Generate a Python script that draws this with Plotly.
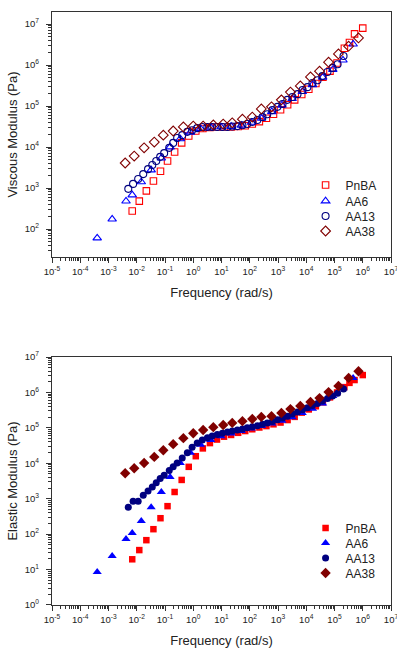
import numpy as np
import plotly.graph_objects as go

# ---- data (log10 of frequency [rad/s] and log10 of modulus [Pa]) ----
pnba_logf = [-2.16, -1.91, -1.66, -1.41, -1.16, -0.91, -0.66, -0.41, -0.16, 0.09,
             0.34, 0.59, 0.84, 1.09, 1.34, 1.59, 1.84, 2.09, 2.34, 2.59,
             2.84, 3.09, 3.34, 3.59, 3.84, 4.09, 4.34, 4.59, 4.84, 5.09,
             5.35, 5.53, 5.71, 6.00]
pnba_visc = [2.44, 2.68, 2.93, 3.17, 3.41, 3.66, 3.88, 4.10, 4.27, 4.39,
             4.45, 4.48, 4.49, 4.49, 4.49, 4.50, 4.52, 4.56, 4.62, 4.70,
             4.80, 4.91, 5.03, 5.15, 5.28, 5.41, 5.55, 5.70, 5.85, 6.05,
             6.41, 6.55, 6.76, 6.90]
pnba_elas = [1.29, 1.55, 1.83, 2.14, 2.45, 2.79, 3.19, 3.53, 3.90, 4.20,
             4.42, 4.57, 4.67, 4.75, 4.80, 4.86, 4.91, 4.96, 5.01, 5.05,
             5.10, 5.15, 5.22, 5.31, 5.43, 5.52, 5.61, 5.72, 5.86, 6.00,
             6.15, 6.27, 6.35, 6.49]

aa6_logf = [-3.40, -2.87, -2.38, -2.16, -1.84, -1.49, -1.13, -0.82, -0.46, -0.10,
            0.26, 0.62, 0.98, 1.34, 1.70, 2.06, 2.42, 2.78, 3.14, 3.50,
            3.86, 4.22, 4.58, 4.94, 5.30, 5.66]
aa6_visc = [1.78, 2.24, 2.68, 2.83, 3.15, 3.44, 3.73, 4.00, 4.20, 4.36,
            4.45, 4.48, 4.49, 4.50, 4.53, 4.60, 4.70, 4.86, 5.02, 5.18,
            5.35, 5.52, 5.70, 5.89, 6.12, 6.51]
aa6_elas = [0.93, 1.38, 1.86, 2.03, 2.37, 2.76, 3.19, 3.61, 4.01, 4.30,
            4.52, 4.66, 4.76, 4.84, 4.91, 4.98, 5.05, 5.12, 5.20, 5.30,
            5.42, 5.54, 5.69, 5.90, 6.12, 6.41]

aa13_logf = [-2.30, -2.13, -1.95, -1.77, -1.60, -1.45, -1.31, -1.17, -1.03, -0.85,
             -0.71, -0.57, -0.39, -0.21, -0.04, 0.14, 0.32, 0.50, 0.67, 0.85,
             1.03, 1.21, 1.38, 1.56, 1.74, 1.91, 2.09, 2.27, 2.45, 2.62,
             2.80, 2.98, 3.16, 3.33, 3.51, 3.69, 3.87, 4.04, 4.22, 4.40,
             4.57, 4.75, 4.93, 5.11, 5.32]
aa13_visc = [2.98, 3.10, 3.22, 3.34, 3.46, 3.56, 3.66, 3.76, 3.85, 3.98,
             4.10, 4.22, 4.29, 4.37, 4.41, 4.46, 4.49, 4.49, 4.49, 4.49,
             4.49, 4.49, 4.50, 4.51, 4.53, 4.56, 4.61, 4.66, 4.73, 4.80,
             4.90, 4.98, 5.05, 5.15, 5.22, 5.29, 5.39, 5.46, 5.56, 5.63,
             5.73, 5.83, 5.93, 6.02, 6.22]
aa13_elas = [2.76, 2.93, 2.93, 3.10, 3.22, 3.33, 3.45, 3.57, 3.66, 3.80,
             3.90, 4.01, 4.15, 4.30, 4.45, 4.57, 4.66, 4.72, 4.77, 4.81,
             4.85, 4.88, 4.91, 4.94, 4.97, 5.00, 5.03, 5.06, 5.10, 5.14,
             5.18, 5.23, 5.28, 5.33, 5.39, 5.45, 5.51, 5.57, 5.63, 5.69,
             5.76, 5.83, 5.90, 5.98, 6.10]

aa38_logf = [-2.41, -2.09, -1.74, -1.38, -1.06, -0.71, -0.35, 0.00, 0.35, 0.71,
             1.06, 1.38, 1.74, 2.09, 2.41, 2.77, 3.12, 3.44, 3.79, 4.15,
             4.47, 4.79, 5.14, 5.50, 5.85]
aa38_visc = [3.61, 3.78, 3.98, 4.12, 4.29, 4.39, 4.49, 4.51, 4.51, 4.54,
             4.56, 4.59, 4.68, 4.73, 4.93, 4.98, 5.15, 5.34, 5.49, 5.71,
             5.85, 6.07, 6.27, 6.46, 6.66]
aa38_elas = [3.72, 3.86, 4.01, 4.18, 4.37, 4.54, 4.71, 4.85, 4.94, 5.02,
             5.08, 5.14, 5.19, 5.25, 5.31, 5.33, 5.42, 5.53, 5.62, 5.73,
             5.84, 6.01, 6.18, 6.41, 6.60]

series_names = ["PnBA", "AA6", "AA13", "AA38"]
x_tick_exps = list(range(-5, 8))
y_tick_exps_top = list(range(2, 8))
y_tick_exps_bot = list(range(0, 8))

# ---- styling ----
FONT = "Liberation Sans, Arial, sans-serif"
TXT = "#222222"
AXC = "#333333"
colors = ["#ff0000", "#0000ff", "#000080", "#800000"]
open_symbols = ["square-open", "triangle-up-open", "circle-open", "diamond-open"]
fill_symbols = ["square", "triangle-up", "circle", "diamond"]
open_sizes = [6.5, 7.5, 7, 7.5]
fill_sizes = [6.5, 8, 7, 8]

fig = go.Figure()

top_data = [(pnba_logf, pnba_visc), (aa6_logf, aa6_visc), (aa13_logf, aa13_visc), (aa38_logf, aa38_visc)]
bot_data = [(pnba_logf, pnba_elas), (aa6_logf, aa6_elas), (aa13_logf, aa13_elas), (aa38_logf, aa38_elas)]

for i, (lf, lv) in enumerate(top_data):
    fig.add_trace(go.Scatter(
        x=10 ** np.array(lf), y=10 ** np.array(lv), mode="markers", name=series_names[i],
        marker=dict(symbol=open_symbols[i], size=open_sizes[i], color=colors[i],
                    line=dict(color=colors[i], width=1.1)),
        showlegend=True,
        xaxis="x", yaxis="y", legend="legend" if i == 0 else f"legend{i + 1}"))

for i, (lf, lv) in enumerate(bot_data):
    fig.add_trace(go.Scatter(
        x=10 ** np.array(lf), y=10 ** np.array(lv), mode="markers", name=series_names[i],
        marker=dict(symbol=fill_symbols[i], size=fill_sizes[i], color=colors[i],
                    line=dict(width=0)),
        showlegend=True,
        xaxis="x2", yaxis="y2", legend=f"legend{i + 5}"))

def sup(e):
    return f"10<sup>{e}</sup>"

def minor_vals(lo, hi):
    return [m * 10.0 ** e for e in range(lo, hi) for m in range(2, 10)]

def axis_common(tick_exps, rng, minors):
    return dict(
        type="log", range=rng, showgrid=False, zeroline=False,
        showline=True, linecolor=AXC, linewidth=1.3, mirror=True,
        ticks="outside", ticklen=5, tickwidth=1, tickcolor=AXC,
        tickmode="array", tickvals=[10.0 ** e for e in tick_exps],
        ticktext=[sup(e) for e in tick_exps],
        tickfont=dict(family=FONT, size=9.5, color=TXT),
        ticklabeloverflow="allow",
        minor=dict(ticks="outside", ticklen=3, tickwidth=1, tickcolor=AXC,
                   tickmode="array", tickvals=minors, showgrid=False),
    )

title_font = dict(family=FONT, size=13, color=TXT)

xa = axis_common(x_tick_exps, [-5, 7], minor_vals(-5, 7))
xa.update(domain=[0, 1], anchor="y",
          title=dict(text="Frequency (rad/s)", font=title_font, standoff=12))
xb = axis_common(x_tick_exps, [-5, 7], minor_vals(-5, 7))
xb.update(domain=[0, 1], anchor="y2",
          title=dict(text="Frequency (rad/s)", font=title_font, standoff=12))
ya = axis_common(y_tick_exps_top, [1.317, 7.293], minor_vals(1, 7))
ya.update(domain=[0.5868, 1.0], anchor="x", ticklabelstandoff=5,
          title=dict(text="Viscous Modulus (Pa)", font=title_font, standoff=4))
yb = axis_common(y_tick_exps_bot, [0, 7], minor_vals(0, 7))
yb.update(domain=[0, 0.4182], anchor="x2", ticklabelstandoff=5,
          title=dict(text="Elastic Modulus (Pa)", font=title_font, standoff=4))

layout = dict(
    width=397, height=648,
    margin=dict(l=52, r=6, t=12, b=43, autoexpand=False),
    paper_bgcolor="white", plot_bgcolor="white",
    font=dict(family=FONT, color=TXT),
    showlegend=True,
    xaxis=xa, yaxis=ya, xaxis2=xb, yaxis2=yb,
)

# individual legend boxes so the rows sit as tightly as in the reference
top_rows = [0.7083, 0.6813, 0.6560, 0.6307]
bot_rows = [0.1298, 0.1046, 0.0793, 0.0540]
for i in range(8):
    key = "legend" if i == 0 else f"legend{i + 1}"
    yv = top_rows[i] if i < 4 else bot_rows[i - 4]
    layout[key] = dict(x=0.748, xanchor="left", y=yv, yanchor="middle",
                       bgcolor="rgba(0,0,0,0)", borderwidth=0,
                       font=dict(family=FONT, size=12, color=TXT),
                       itemwidth=30, tracegroupgap=0)

fig.update_layout(**layout)
fig.write_html("out.html", config={"displayModeBar": False},
               post_script="document.body.style.margin='0px';")
